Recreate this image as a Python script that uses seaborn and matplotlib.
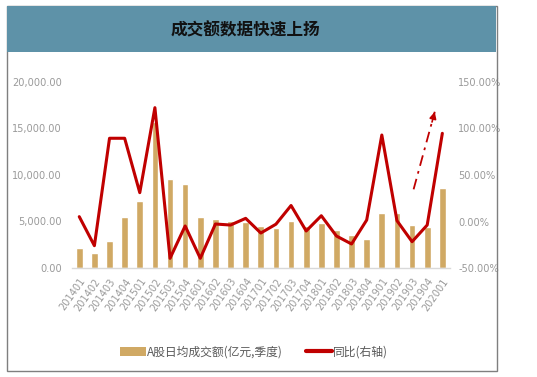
import numpy as np
import pandas as pd
import matplotlib
matplotlib.use("Agg")
import matplotlib.pyplot as plt
import seaborn as sns
from matplotlib.patches import Rectangle, Patch
from matplotlib.lines import Line2D
from matplotlib.ticker import FuncFormatter
from matplotlib import font_manager as fm

quarters = ["201401", "201402", "201403", "201404", "201501", "201502", "201503", "201504",
            "201601", "201602", "201603", "201604", "201701", "201702", "201703", "201704",
            "201801", "201802", "201803", "201804", "201901", "201902", "201903", "201904",
            "202001"]
turnover = [2120, 1580, 2900, 5450, 7200, 15700, 9540, 9030,
            5450, 5270, 5020, 4950, 4480, 4330, 5050, 4520,
            4800, 4090, 3550, 3090, 5880, 5880, 4620, 4440,
            8570]
yoy = [5.2, -26.0, 89.5, 89.5, 31.0, 122.4, -39.6, -4.8,
       -39.6, -2.7, -3.8, 3.4, -12.4, -2.9, 17.2, -10.2,
       6.2, -15.6, -24.2, 1.6, 93.0, 0.9, -21.7, -3.8,
       94.8]
trend_arrow_x = [22.1, 23.5]
trend_arrow_y = [34.6, 118.0]

title = "成交额数据快速上扬"
bar_label = "A股日均成交额(亿元,季度)"
line_label = "同比(右轴)"

BAR_C = "#D0A964"
LINE_C = "#C00000"
TICK_C = "#9A9A9A"

sns.set_theme(style="white")
plt.rcParams['font.family'] = ['Noto Sans CJK SC', 'DejaVu Sans']

# condensed face for tick labels
cond_files = [f for f in fm.findSystemFonts() if "Condensed" in f and "DejaVuSans" in f
              and "Bold" not in f and "Oblique" not in f]
if cond_files:
    tick_fp = fm.FontProperties(fname=cond_files[0], size=7.8)
else:
    tick_fp = fm.FontProperties(family="DejaVu Sans", stretch="condensed", size=7.2)

W, H = 537, 377
fig = plt.figure(figsize=(W / 100, H / 100), dpi=100)

def fx(px):
    return px / W

def fy(py):
    return 1 - py / H

# outer border and banner
fig.patches.append(Rectangle((fx(6.5), fy(371)), fx(496.5) - fx(6.5), fy(5.5) - fy(371),
                             transform=fig.transFigure, fill=False, edgecolor="#7F7F7F",
                             linewidth=1.0, zorder=0))
fig.patches.append(Rectangle((fx(7.5), fy(52)), fx(496) - fx(7.5), fy(6) - fy(52),
                             transform=fig.transFigure, facecolor="#5E92A8", edgecolor="none",
                             zorder=0))
fig.text(fx(245.5), fy(30.5), title, ha="center", va="center", fontsize=12,
         fontweight="bold", color="#111111", family=['Noto Sans CJK SC', 'DejaVu Sans'])

ax = fig.add_axes([fx(71.7), fy(268), fx(449.9) - fx(71.7), fy(82) - fy(268)])
df = pd.DataFrame({"quarter": quarters, "turnover": turnover, "yoy": yoy,
                   "pos": np.arange(len(quarters))})
sns.barplot(data=df, x="quarter", y="turnover", color=BAR_C, saturation=1,
            width=0.44, ax=ax)
ax.set_ylim(0, 20000)
ax.set_xlim(-0.5, len(quarters) - 0.5)
ax.set_yticks([0, 5000, 10000, 15000, 20000])
ax.yaxis.set_major_formatter(FuncFormatter(lambda v, p: f"{v:,.2f}"))
ax.set_xlabel("")
ax.set_ylabel("")

for lab in ax.get_yticklabels():
    lab.set_fontproperties(tick_fp)
    lab.set_color(TICK_C)
ax.set_xticks(range(len(quarters)))
ax.set_xticklabels(quarters, rotation=55, ha="right", rotation_mode="anchor",
                   color=TICK_C)
for lab in ax.get_xticklabels():
    lab.set_fontproperties(tick_fp)
ax.tick_params(axis="both", length=0, pad=7)
ax.tick_params(axis="x", pad=6)
for s in ["top", "left", "right"]:
    ax.spines[s].set_visible(False)
ax.spines["bottom"].set_color("#D9D9D9")
ax.spines["bottom"].set_linewidth(1.0)

ax2 = ax.twinx()
sns.lineplot(data=df, x="pos", y="yoy", color=LINE_C, linewidth=2.2, ax=ax2)
ax2.set_ylim(-50, 150)
ax2.set_yticks([-50, 0, 50, 100, 150])
ax2.yaxis.set_major_formatter(FuncFormatter(lambda v, p: f"{v:.2f}%"))
ax2.set_xlim(-0.5, len(quarters) - 0.5)
ax2.set_xlabel("")
ax2.set_ylabel("")
for lab in ax2.get_yticklabels():
    lab.set_fontproperties(tick_fp)
    lab.set_color(TICK_C)
ax2.tick_params(axis="y", length=0, pad=6)
for s in ax2.spines.values():
    s.set_visible(False)
ax2.grid(False)
ax.grid(False)

# dash-dot trend arrow
ax2.plot(trend_arrow_x, trend_arrow_y, color=LINE_C, linewidth=1.3,
         linestyle=(0, (6, 3, 1.5, 3)))
ax2.annotate("", xy=(trend_arrow_x[1], trend_arrow_y[1]),
             xytext=(trend_arrow_x[1] - 0.18, trend_arrow_y[1] - 11),
             arrowprops=dict(arrowstyle="-|>", color=LINE_C, lw=1.2,
                             mutation_scale=10, shrinkA=0, shrinkB=0))

handles = [Patch(facecolor=BAR_C, edgecolor="none"),
           Line2D([0], [0], color=LINE_C, linewidth=3)]
fig.legend(handles, [bar_label, line_label], loc="center", ncol=2,
           bbox_to_anchor=(fx(254), fy(352)), frameon=False,
           labelcolor="#595959", handlelength=2.2, handleheight=0.7,
           handletextpad=0.1, columnspacing=2.0,
           prop={'family': ['Noto Sans CJK SC', 'DejaVu Sans'], 'size': 8.5})

fig.savefig("out.png", dpi=100)
